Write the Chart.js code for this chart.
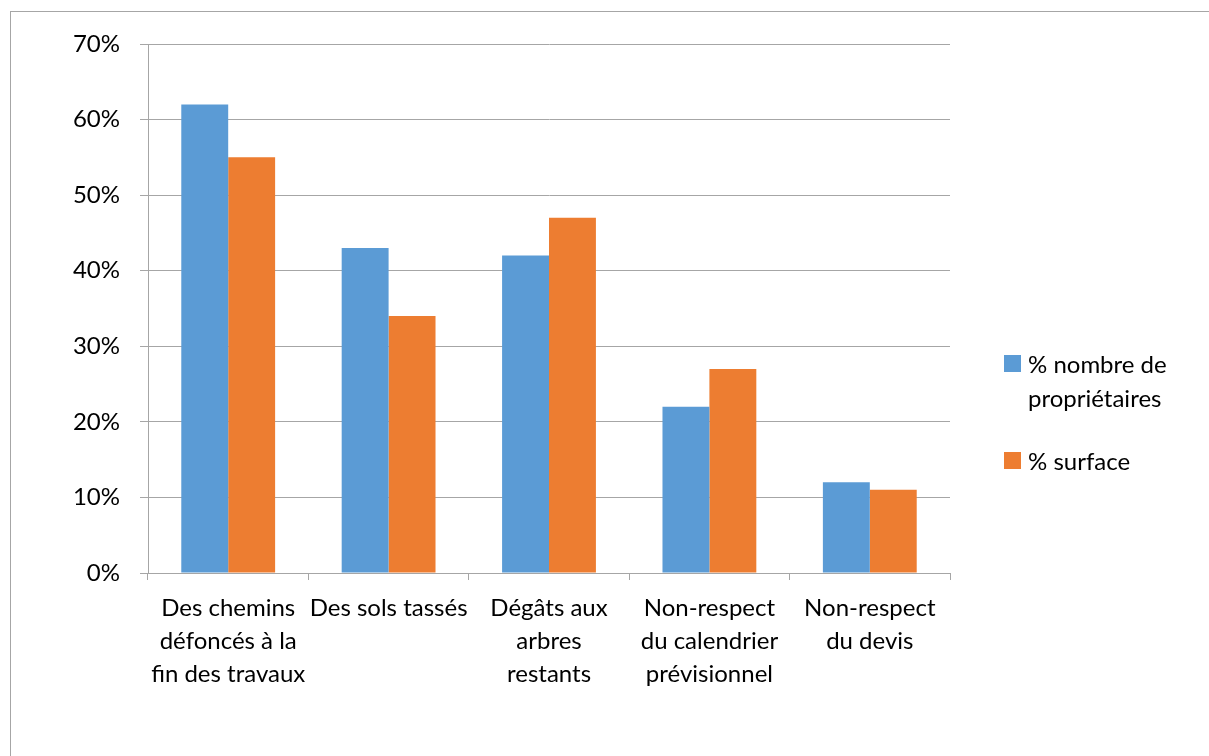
<!DOCTYPE html>
<html>
<head>
<meta charset="utf-8">
<script src="https://cdn.jsdelivr.net/npm/chart.js@4/dist/chart.umd.min.js"></script>
<style>
  html, body { margin: 0; padding: 0; background: #fff; }
  #wrap { position: relative; width: 1209px; height: 756px; overflow: hidden; }
  #frame { position: absolute; left: 10px; top: 11px; width: 1300px; height: 800px; border: 1px solid #a6a6a6; }
  canvas { position: absolute; left: 0; top: 0; }
</style>
</head>
<body>
<div id="wrap">
  <div id="frame"></div>
  <canvas id="bar-chart" width="1209" height="756"></canvas>
</div>
<script>
  // categories (line-wrapped as in the picture)
  var labels = [
    ["Des chemins", "défoncés à la", "fin des travaux"],
    ["Des sols tassés"],
    ["Dégâts aux", "arbres", "restants"],
    ["Non-respect", "du calendrier", "prévisionnel"],
    ["Non-respect", "du devis"]
  ];
  var proprietaires = [62, 43, 42, 22, 12];
  var surface = [55, 34, 47, 27, 11];
  var seriesNames = [["% nombre de", "propriétaires"], ["% surface"]];
  var yTicks = [0, 10, 20, 30, 40, 50, 60, 70];

  var font = "Lato";
  var fontSize = 24;

  // legend drawn to the right of the plot, with wrapped labels
  var sideLegend = {
    id: 'sideLegend',
    afterDraw: function (chart) {
      var ctx = chart.ctx;
      var x = 1004, y = 355;
      ctx.save();
      ctx.font = fontSize + "px " + font;
      ctx.textBaseline = "middle";
      chart.data.datasets.forEach(function (ds) {
        ctx.fillStyle = ds.backgroundColor;
        ctx.fillRect(x, y, 17, 17);
        ctx.fillStyle = "#000";
        var lines = ds.label;
        for (var i = 0; i < lines.length; i++) {
          ctx.fillText(lines[i], x + 24, y + 10 + i * 34);
        }
        y += lines.length * 34 + 29;
      });
      ctx.restore();
    }
  };

  new Chart(document.getElementById("bar-chart"), {
    type: 'bar',
    data: {
      labels: labels,
      datasets: [{
        label: seriesNames[0],
        data: proprietaires,
        backgroundColor: "#5b9bd5"
      }, {
        label: seriesNames[1],
        data: surface,
        backgroundColor: "#ed7d31"
      }]
    },
    options: {
      responsive: false,
      animation: false,
      layout: { padding: { left: 0, top: 44, right: 259, bottom: 0 } },
      datasets: { bar: { categoryPercentage: 0.585, barPercentage: 1 } },
      plugins: {
        legend: { display: false },
        tooltip: { enabled: false }
      },
      scales: {
        x: {
          grid: { drawOnChartArea: false, drawTicks: true, tickLength: 7, color: "#a6a6a6", offset: true },
          border: { color: "#a6a6a6" },
          ticks: {
            color: "#000",
            font: { family: font, size: fontSize, lineHeight: 1.375 },
            padding: 12,
            maxRotation: 0,
            autoSkip: false
          },
          afterFit: function (scale) { scale.height = 183; }
        },
        y: {
          min: 0,
          max: 70,
          afterBuildTicks: function (scale) {
            scale.ticks = yTicks.map(function (v) { return { value: v }; });
          },
          grid: { color: "#a6a6a6", tickLength: 8 },
          border: { color: "#a6a6a6" },
          ticks: {
            color: "#000",
            font: { family: font, size: fontSize },
            padding: 20,
            callback: function (v) { return v + "%"; }
          },
          afterFit: function (scale) { scale.width = 148; }
        }
      }
    },
    plugins: [sideLegend]
  });
</script>
</body>
</html>
